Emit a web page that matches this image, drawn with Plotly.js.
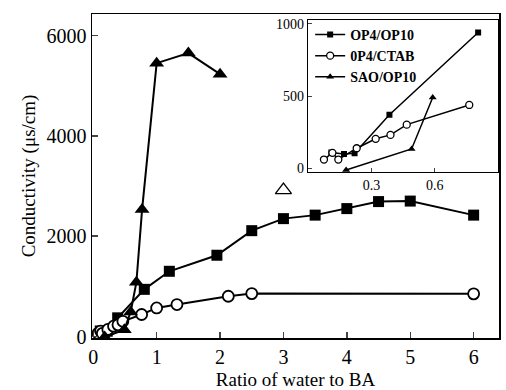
<!DOCTYPE html>
<html><head><meta charset="utf-8">
<script src="https://cdn.plot.ly/plotly-3.0.1.min.js"></script>
<style>html,body{margin:0;padding:0;background:#fff}#c{width:506px;height:390px}</style>
</head><body><div id="c"></div>
<script>
// OP4/OP10 (squares)
const ratioSq = [0.11, 0.17, 0.22, 0.385, 0.805, 1.2, 1.95, 2.5, 3.0, 3.5, 4.0, 4.5, 5.0, 6.0];
const condSq  = [110, 100, 105, 372, 940, 1300, 1620, 2110, 2350, 2420, 2550, 2690, 2700, 2420];
// 0P4/CTAB (open circles)
const ratioCi = [0.075, 0.115, 0.143, 0.23, 0.32, 0.39, 0.467, 0.763, 1.0, 1.32, 2.13, 2.5, 6.0];
const condCi  = [62, 108, 62, 140, 205, 232, 303, 439, 570, 637, 802, 855, 850];
// SAO/OP10 (triangles)
const ratioTr = [0.18, 0.49, 0.59, 0.68, 0.77, 1.0, 1.5, 2.0];
const condTr  = [-10, 135, 490, 1080, 2530, 5450, 5650, 5230];
// separate open triangle
const ratioOut = [3.0];
const condOut  = [2920];

const names = ["OP4/OP10", "0P4/CTAB", "SAO/OP10"];
// number of leading points of each series shown in the inset
const insetCount = [5, 8, 3];

const F = "'Liberation Serif', 'Times New Roman', Times, serif";
const traces = [];
traces.push({x: ratioSq, y: condSq, mode: "lines+markers", showlegend: false,
  line: {color: "#000", width: 2}, marker: {symbol: "square", size: 11, color: "#000"}});
traces.push({x: ratioCi, y: condCi, mode: "lines+markers", showlegend: false,
  line: {color: "#000", width: 2}, marker: {symbol: "circle", size: 11, color: "#fff", line: {color: "#000", width: 1.8}}});
traces.push({x: ratioTr, y: condTr, mode: "lines+markers", showlegend: false,
  line: {color: "#000", width: 2}, marker: {symbol: "triangle-up", size: 13, color: "#000"}});
traces.push({x: ratioOut, y: condOut, mode: "markers", showlegend: false,
  marker: {symbol: "triangle-up", size: 14, color: "#fff", line: {color: "#000", width: 1.3}}});

traces.push({x: ratioSq.slice(0, insetCount[0]), y: condSq.slice(0, insetCount[0]), xaxis: "x2", yaxis: "y2",
  name: names[0], mode: "lines+markers",
  line: {color: "#000", width: 1.5}, marker: {symbol: "square", size: 6, color: "#000"}});
traces.push({x: ratioCi.slice(0, insetCount[1]), y: condCi.slice(0, insetCount[1]), xaxis: "x2", yaxis: "y2",
  name: names[1], mode: "lines+markers",
  line: {color: "#000", width: 1.5}, marker: {symbol: "circle", size: 7, color: "#fff", line: {color: "#000", width: 1.3}}});
traces.push({x: ratioTr.slice(0, insetCount[2]), y: condTr.slice(0, insetCount[2]), xaxis: "x2", yaxis: "y2",
  name: names[2], mode: "lines+markers",
  line: {color: "#000", width: 1.5}, marker: {symbol: "triangle-up", size: 7, color: "#000"}});

const layout = {
  width: 506, height: 390,
  margin: {l: 92, r: 7, t: 14, b: 52},
  paper_bgcolor: "#fff", plot_bgcolor: "#fff",
  font: {family: F, color: "#000", size: 16},
  xaxis: {range: [-0.02, 6.4], tickvals: [0,1,2,3,4,5,6], ticks: "inside", ticklen: 6, tickwidth: 1.5,
    showline: true, mirror: true, linecolor: "#000", linewidth: 1.5, showgrid: false, zeroline: false,
    tickfont: {size: 20, family: F}, title: {text: "Ratio of water to BA", font: {size: 19, family: F}, standoff: 10}},
  yaxis: {range: [-30, 6430], tickvals: [0, 2000, 4000, 6000], ticks: "inside", ticklen: 6, tickwidth: 1.5,
    showline: true, mirror: true, linecolor: "#000", linewidth: 1.5, showgrid: false, zeroline: false,
    tickfont: {size: 20, family: F}, title: {text: "Conductivity (μs/cm)", font: {size: 19, family: F}, standoff: 6}},
  xaxis2: {domain: [0.531, 0.998], anchor: "y2", range: [0, 0.9], tickvals: [0.3, 0.6, 0.9], ticktext: ["0.3","0.6","0.9"],
    ticks: "inside", ticklen: 4, showline: true, mirror: true, linecolor: "#000", linewidth: 1.2,
    showgrid: false, zeroline: false, tickfont: {size: 14, family: F}},
  yaxis2: {domain: [0.512, 0.981], anchor: "x2", range: [-25, 1025], tickvals: [0, 500, 1000],
    ticks: "inside", ticklen: 4, showline: true, mirror: true, linecolor: "#000", linewidth: 1.2,
    showgrid: false, zeroline: false, tickfont: {size: 14, family: F}},
  legend: {x: 0.536, y: 0.985, xanchor: "left", yanchor: "top", bgcolor: "rgba(0,0,0,0)",
    font: {size: 14, family: F, weight: "bold"}, itemwidth: 30, tracegroupgap: 0},
  showlegend: true
};
Plotly.newPlot("c", traces, layout, {staticPlot: true});
</script></body></html>
